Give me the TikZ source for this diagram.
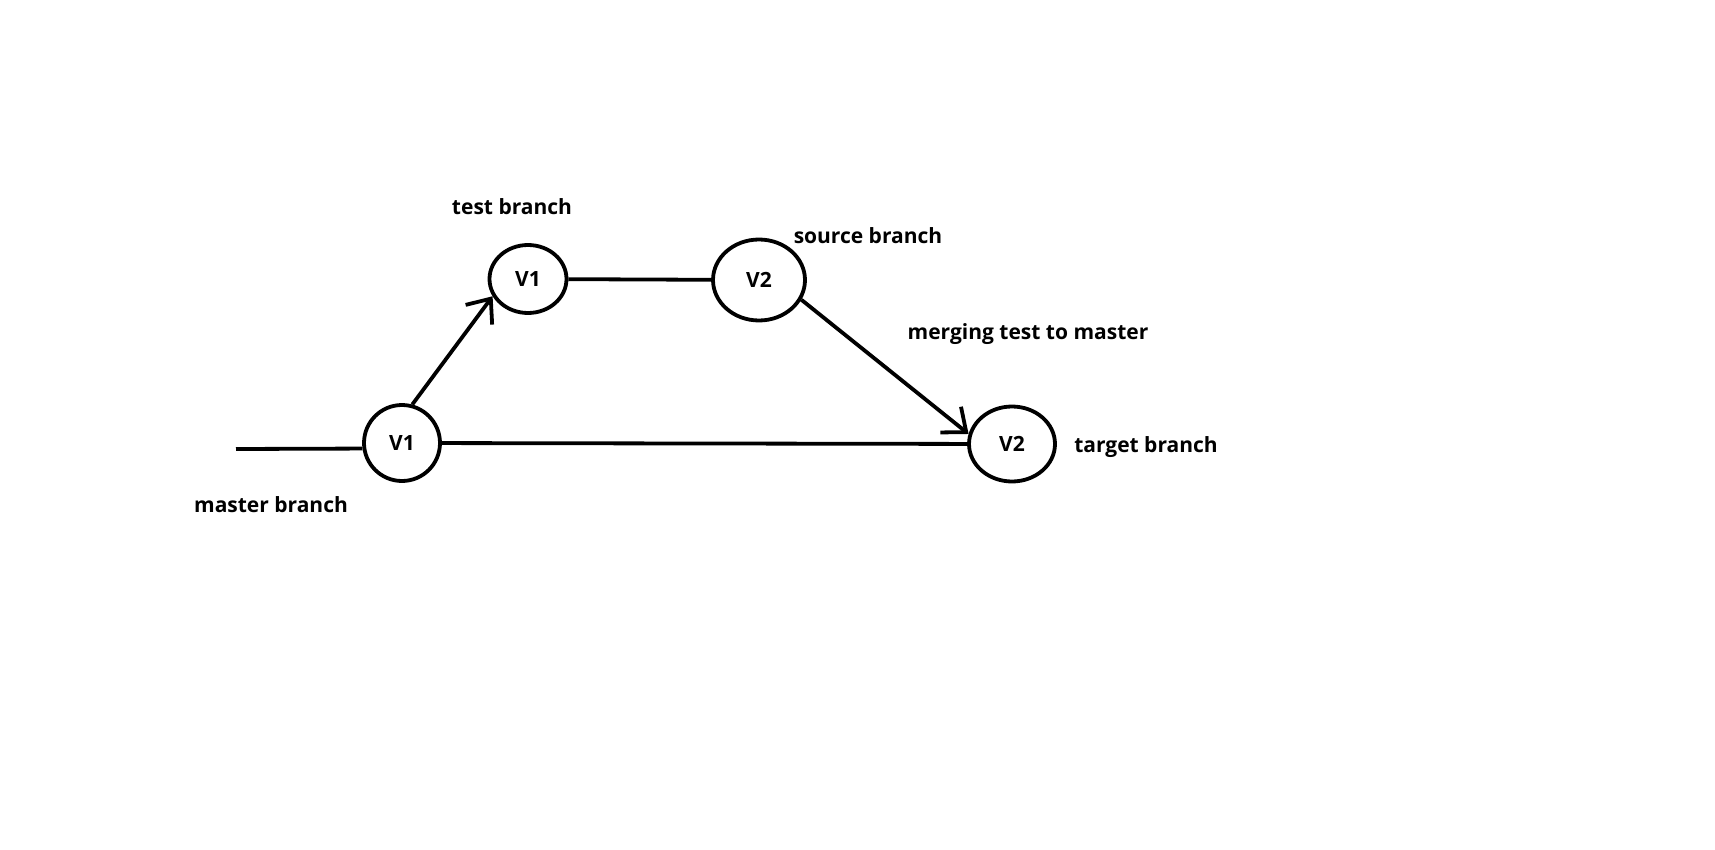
\documentclass[tikz,border=0pt]{standalone}
\usepackage{fontspec}
\setmainfont{Open Sans}[BoldFont={Open Sans Bold}]
\usetikzlibrary{shapes.geometric,arrows.meta}
\begin{document}
\begin{tikzpicture}[x=1pt,y=-1pt,
  ver/.style={draw,ellipse,line width=3.8pt,inner sep=0pt,font=\fontsize{21}{24}\selectfont\bfseries},
  lbl/.style={font=\fontsize{21}{24}\selectfont\bfseries,inner sep=0pt},
  conn/.style={line width=3.8pt},
  barb/.style={-{Straight Barb[length=20pt,width=33pt,line width=3.8pt]}}]
\useasboundingbox[fill=white] (0,0) rectangle (1715,850);
\node[ver,minimum width=76pt,minimum height=76pt] (mv1) at (402,443) {V1};
\node[ver,minimum width=77pt,minimum height=68pt] (tv1) at (528,279) {V1};
\node[ver,minimum width=92pt,minimum height=81pt] (sv2) at (759,280) {V2};
\node[ver,minimum width=86pt,minimum height=75pt] (tgv2) at (1012,444) {V2};
\coordinate (start) at (236,449);
\node[lbl] (lm) at (271,505) {master branch};
\node[lbl] (lt) at (512,207) {test branch};
\node[lbl] (ls) at (868,236) {source branch};
\node[lbl] (lmg) at (1028,334) {merging test to master};
\node[lbl] (ltg) at (1146,447) {target branch};
\draw[conn] (start) -- (mv1.188);
\draw[conn] (mv1) -- (tgv2);
\draw[conn] (tv1) -- (sv2);
\draw[conn,barb] (mv1.75) -- (tv1.206);
\draw[conn,barb] (sv2.-25) -- (tgv2.167);
\end{tikzpicture}
\end{document}
